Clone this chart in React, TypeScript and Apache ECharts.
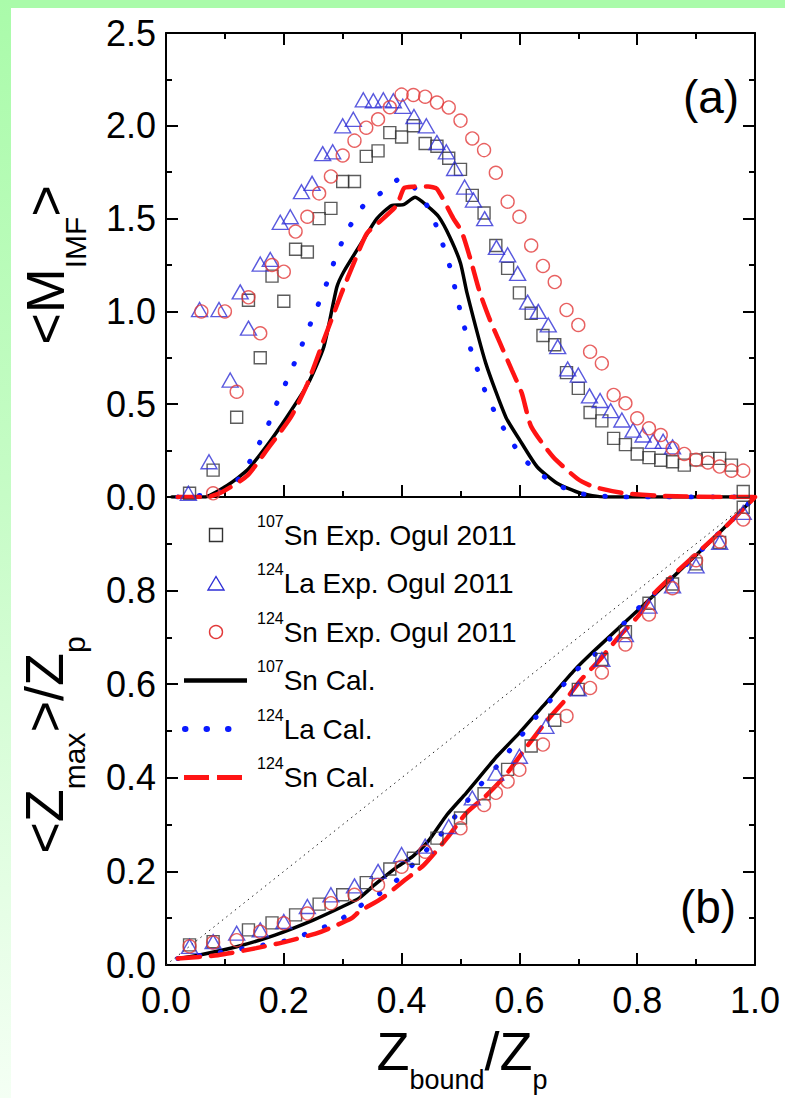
import React, { useEffect, useRef } from 'react';
import * as echarts from 'echarts';

const FONT = "'Liberation Sans', Arial, Helvetica, sans-serif";

// ---------- Panel (a): <M_IMF> vs Zbound/Zp ----------
const aSn107Exp: number[][] = [
  [0.04, 0.02], [0.08, 0.145], [0.12, 0.43], [0.14, 1.06], [0.16, 0.75], [0.18, 1.19], [0.2, 1.055],
  [0.22, 1.335], [0.24, 1.32], [0.26, 1.5], [0.28, 1.555], [0.3, 1.7], [0.32, 1.7], [0.34, 1.835],
  [0.36, 1.865], [0.38, 1.963], [0.4, 1.94], [0.42, 2.0], [0.44, 1.905], [0.46, 1.89], [0.48, 1.825],
  [0.5, 1.765], [0.52, 1.625], [0.54, 1.53], [0.56, 1.355], [0.58, 1.232], [0.6, 1.1], [0.62, 0.99],
  [0.64, 0.87], [0.66, 0.82], [0.68, 0.67], [0.7, 0.585], [0.72, 0.455], [0.74, 0.41], [0.76, 0.316],
  [0.78, 0.282], [0.8, 0.232], [0.82, 0.212], [0.84, 0.198], [0.86, 0.19], [0.88, 0.172], [0.9, 0.2],
  [0.92, 0.208], [0.94, 0.208], [0.96, 0.172], [0.98, 0.03],
];
const aLa124Exp: number[][] = [
  [0.038, 0.02], [0.057, 1.01], [0.073, 0.19], [0.09, 1.01], [0.109, 0.63], [0.126, 1.105], [0.14, 0.91],
  [0.16, 1.255], [0.177, 1.28], [0.194, 1.48], [0.211, 1.51], [0.23, 1.645], [0.248, 1.69], [0.266, 1.85],
  [0.283, 1.86], [0.3, 2.0], [0.318, 2.035], [0.335, 2.14], [0.352, 2.135], [0.369, 2.14], [0.386, 2.135],
  [0.402, 2.105], [0.421, 2.05], [0.442, 2.0], [0.46, 1.91], [0.476, 1.86], [0.49, 1.77], [0.507, 1.67],
  [0.522, 1.6], [0.541, 1.5], [0.561, 1.345], [0.58, 1.305], [0.597, 1.205], [0.614, 1.05], [0.632, 1.0],
  [0.649, 0.927], [0.665, 0.81], [0.682, 0.69], [0.7, 0.657], [0.719, 0.545], [0.737, 0.52], [0.755, 0.465],
  [0.774, 0.415], [0.793, 0.36], [0.81, 0.334], [0.827, 0.3], [0.844, 0.3], [0.86, 0.27],
];
const aSn124Exp: number[][] = [
  [0.06, 1.0], [0.08, 0.02], [0.1, 1.0], [0.12, 0.567], [0.14, 1.076], [0.16, 0.882], [0.18, 1.25],
  [0.2, 1.214], [0.22, 1.43], [0.24, 1.51], [0.26, 1.636], [0.28, 1.727], [0.3, 1.84], [0.32, 1.92],
  [0.34, 1.99], [0.36, 2.035], [0.38, 2.1], [0.4, 2.168], [0.42, 2.166], [0.44, 2.157], [0.46, 2.125],
  [0.48, 2.099], [0.5, 2.028], [0.52, 1.932], [0.54, 1.869], [0.56, 1.747], [0.58, 1.591], [0.6, 1.51],
  [0.62, 1.355], [0.64, 1.245], [0.66, 1.158], [0.68, 1.008], [0.7, 0.927], [0.72, 0.783], [0.74, 0.72],
  [0.76, 0.55], [0.78, 0.505], [0.8, 0.424], [0.82, 0.37], [0.84, 0.334], [0.86, 0.262], [0.88, 0.232],
  [0.9, 0.2], [0.92, 0.186], [0.94, 0.164], [0.96, 0.142], [0.98, 0.142],
];
const aSn107Cal: number[][] = [
  [0.01, 0.0], [0.065, 0.0], [0.105, 0.065], [0.138, 0.145], [0.172, 0.28], [0.205, 0.43], [0.241, 0.61],
  [0.268, 0.81], [0.29, 1.13], [0.302, 1.215], [0.335, 1.385], [0.358, 1.5], [0.383, 1.57], [0.403, 1.575],
  [0.423, 1.615], [0.443, 1.57], [0.463, 1.51], [0.482, 1.4], [0.5, 1.26], [0.511, 1.1], [0.543, 0.72],
  [0.577, 0.43], [0.6, 0.31], [0.63, 0.163], [0.664, 0.074], [0.704, 0.02], [0.744, 0.0], [1.0, 0.0],
];
const aLa124Cal: number[][] = [
  [0.02, 0.0], [0.09, 0.023], [0.127, 0.109], [0.151, 0.244], [0.171, 0.37], [0.188, 0.505], [0.208, 0.648],
  [0.225, 0.774], [0.241, 0.9], [0.258, 1.034], [0.275, 1.17], [0.289, 1.3], [0.307, 1.43], [0.334, 1.565],
  [0.368, 1.645], [0.399, 1.717], [0.431, 1.636], [0.454, 1.5], [0.469, 1.37], [0.483, 1.23], [0.491, 1.12],
  [0.502, 0.97], [0.518, 0.79], [0.541, 0.577], [0.562, 0.433], [0.585, 0.307], [0.609, 0.2], [0.642, 0.11],
  [0.683, 0.038], [0.717, 0.011], [0.777, 0.0], [1.0, 0.0],
];
const aSn124Cal: number[][] = [
  [0.02, 0.0], [0.07, 0.0], [0.097, 0.03], [0.138, 0.115], [0.175, 0.27], [0.212, 0.43], [0.24, 0.61],
  [0.266, 0.83], [0.297, 1.09], [0.32, 1.27], [0.341, 1.42], [0.363, 1.484], [0.392, 1.573], [0.404, 1.664],
  [0.42, 1.672], [0.445, 1.673], [0.46, 1.66], [0.488, 1.5], [0.502, 1.43], [0.517, 1.28], [0.533, 1.1],
  [0.55, 0.954], [0.567, 0.83], [0.587, 0.685], [0.604, 0.56], [0.62, 0.38], [0.657, 0.217], [0.698, 0.1],
  [0.725, 0.056], [0.778, 0.02], [0.845, 0.005], [0.945, 0.0], [1.0, 0.0],
];

// ---------- Panel (b): <Z_max>/Z_p vs Zbound/Zp ----------
const bSn107Exp: number[][] = [
  [0.04, 0.043], [0.08, 0.05], [0.14, 0.075], [0.18, 0.09], [0.22, 0.107], [0.26, 0.13], [0.3, 0.15],
  [0.34, 0.176], [0.38, 0.205], [0.42, 0.228], [0.46, 0.271], [0.5, 0.314], [0.54, 0.366], [0.58, 0.418],
  [0.62, 0.468], [0.66, 0.523], [0.7, 0.589], [0.74, 0.653], [0.78, 0.712], [0.82, 0.773], [0.86, 0.814],
  [0.9, 0.857], [0.94, 0.903], [0.98, 0.978],
];
const bLa124Exp: number[][] = [
  [0.04, 0.04], [0.08, 0.05], [0.12, 0.068], [0.16, 0.075], [0.2, 0.093], [0.24, 0.125], [0.28, 0.15],
  [0.32, 0.169], [0.36, 0.2], [0.4, 0.236], [0.44, 0.254], [0.48, 0.296], [0.52, 0.357], [0.56, 0.41],
  [0.6, 0.446], [0.645, 0.51], [0.7, 0.59], [0.74, 0.653], [0.78, 0.706], [0.82, 0.767], [0.86, 0.81],
  [0.9, 0.853], [0.94, 0.903], [0.98, 0.967],
];
const bSn124Exp: number[][] = [
  [0.04, 0.04], [0.08, 0.048], [0.12, 0.053], [0.16, 0.071], [0.2, 0.089], [0.24, 0.11], [0.28, 0.132],
  [0.32, 0.15], [0.36, 0.171], [0.4, 0.21], [0.44, 0.242], [0.5, 0.292], [0.54, 0.342], [0.56, 0.368],
  [0.58, 0.392], [0.6, 0.417], [0.64, 0.471], [0.68, 0.532], [0.72, 0.592], [0.74, 0.625], [0.78, 0.685],
  [0.82, 0.749], [0.86, 0.805], [0.9, 0.865], [0.94, 0.905], [0.98, 0.952],
];
const bSn107Cal: number[][] = [
  [0.02, 0.014], [0.055, 0.021], [0.12, 0.039], [0.185, 0.064], [0.25, 0.096], [0.3, 0.125], [0.328, 0.143],
  [0.354, 0.171], [0.393, 0.21], [0.419, 0.232], [0.445, 0.264], [0.477, 0.321], [0.51, 0.368],
  [0.562, 0.446], [0.6, 0.496], [0.64, 0.553], [0.692, 0.628], [0.73, 0.675], [0.809, 0.767],
  [0.87, 0.84], [0.93, 0.912], [1.0, 1.0],
];
const bLa124Cal: number[][] = [
  [0.02, 0.014], [0.088, 0.026], [0.153, 0.04], [0.204, 0.052], [0.263, 0.078], [0.295, 0.096], [0.328, 0.125],
  [0.363, 0.153], [0.399, 0.189], [0.432, 0.232], [0.464, 0.275], [0.5, 0.332], [0.529, 0.378], [0.562, 0.425],
  [0.594, 0.475], [0.627, 0.528], [0.659, 0.575], [0.695, 0.628], [0.731, 0.667], [0.763, 0.71], [0.8, 0.76],
  [0.87, 0.84], [0.93, 0.912], [1.0, 1.0],
];
const bSn124Cal: number[][] = [
  [0.02, 0.014], [0.088, 0.021], [0.153, 0.036], [0.204, 0.05], [0.263, 0.071], [0.315, 0.1], [0.328, 0.114],
  [0.367, 0.143], [0.406, 0.182], [0.438, 0.214], [0.477, 0.271], [0.51, 0.325], [0.542, 0.36], [0.575, 0.403],
  [0.607, 0.457], [0.646, 0.521], [0.679, 0.568], [0.705, 0.61], [0.737, 0.653], [0.77, 0.703], [0.802, 0.746],
  [0.831, 0.797], [0.945, 0.93], [1.0, 1.0],
];
const bDiagonal: number[][] = [[0, 0], [1, 1]];

// ---------- Legend texts ----------
const legendSup = ['107', '124', '124', '107', '124', '124'];
const legendMain = ['Sn Exp. Ogul 2011', 'La Exp. Ogul 2011', 'Sn Exp. Ogul 2011', 'Sn Cal.', 'La Cal.', 'Sn Cal.'];
const seriesNames = legendSup.map((s, i) => s + legendMain[i]);

const C_SQ = '#333333';
const C_TRI = '#2f2fd6';
const C_CIR = '#e23a3a';
const C_BLACK = '#000000';
const C_BLUE = '#0a1aff';
const C_RED = '#ff1414';

const BLUE_DASH = [0.5, 21];
const RED_DASH = [22, 11];

export default function App() {
  const ref = useRef<HTMLDivElement>(null);

  useEffect(() => {
    if (!ref.current) return;
    const chart = echarts.init(ref.current, undefined, { renderer: 'svg' });

    const axLine = { show: true, onZero: false, lineStyle: { color: '#000', width: 2 } };
    const tick = { show: true, inside: true, length: 12, lineStyle: { color: '#000', width: 2 } };
    const minor = { show: true, splitNumber: 2, length: 6, lineStyle: { color: '#000', width: 2 } };
    const label = { show: true, color: '#000', fontSize: 36, fontFamily: FONT };

    const xBase = { type: 'value', min: 0, max: 1, interval: 0.2, splitLine: { show: false }, axisLine: axLine, axisTick: tick, minorTick: minor };

    const scatter = (name: string, data: number[][], xi: number, symbol: string, size: any, color: string) => ({
      name, type: 'scatter', xAxisIndex: xi, yAxisIndex: xi, data, symbol, symbolSize: size, z: 4, silent: true,
      itemStyle: { color: 'rgba(0,0,0,0)', borderColor: color, borderWidth: 1.4 },
    });
    const line = (name: string, data: number[][], xi: number, color: string, width: number, type: any) => ({
      name, type: 'line', xAxisIndex: xi, yAxisIndex: xi, data, showSymbol: false, symbol: 'none', smooth: 0.2,
      z: 3, silent: true,
      lineStyle: { color, width, type, cap: 'round' },
    });

    const rowY = [535, 583.5, 632, 680.5, 729, 777.5];
    const graphic: any[] = [];
    legendMain.forEach((t, i) => {
      graphic.push({
        type: 'text', x: 257, y: rowY[i], silent: true,
        style: {
          text: `{s|${legendSup[i]}}{m|${t}}`,
          align: 'left', verticalAlign: 'middle', fill: '#000',
          rich: {
            s: { fontSize: 16, fontFamily: FONT, fill: '#000', padding: [0, 0, 28, 0] },
            m: { fontSize: 28, fontFamily: FONT, fill: '#000' },
          },
        },
      });
    });
    const lx = 216;
    graphic.push({ type: 'rect', shape: { x: lx - 6.5, y: rowY[0] - 6.5, width: 13, height: 13 }, style: { fill: 'none', stroke: C_SQ, lineWidth: 1.4 } });
    graphic.push({ type: 'polygon', shape: { points: [[lx - 8, rowY[1] + 6.5], [lx + 8, rowY[1] + 6.5], [lx, rowY[1] - 7]] }, style: { fill: 'none', stroke: C_TRI, lineWidth: 1.4 } });
    graphic.push({ type: 'circle', shape: { cx: lx, cy: rowY[2], r: 6.5 }, style: { fill: 'none', stroke: C_CIR, lineWidth: 1.4 } });
    graphic.push({ type: 'line', shape: { x1: 184, y1: rowY[3], x2: 247, y2: rowY[3] }, style: { stroke: C_BLACK, lineWidth: 4.5 } });
    graphic.push({ type: 'line', shape: { x1: 185, y1: rowY[4], x2: 248, y2: rowY[4] }, style: { stroke: C_BLUE, lineWidth: 6, lineDash: BLUE_DASH, lineCap: 'round' } });
    graphic.push({ type: 'line', shape: { x1: 184, y1: rowY[5], x2: 247, y2: rowY[5] }, style: { stroke: C_RED, lineWidth: 5, lineDash: [25, 8] } });

    // panel labels
    graphic.push({ type: 'text', x: 711, y: 97, silent: true, style: { text: '(a)', fontSize: 46, fontFamily: FONT, fill: '#000', align: 'center', verticalAlign: 'middle' } });
    graphic.push({ type: 'text', x: 708, y: 907, silent: true, style: { text: '(b)', fontSize: 46, fontFamily: FONT, fill: '#000', align: 'center', verticalAlign: 'middle' } });

    const titleRich = (big: number, sub: number, drop: number) => ({
      a: { fontSize: big, fontFamily: FONT, fill: '#000' },
      s: { fontSize: sub, fontFamily: FONT, fill: '#000', padding: [drop, 0, 0, 0] },
    });
    // axis titles
    graphic.push({
      type: 'text', x: 462, y: 1051, silent: true,
      style: { text: '{a|Z}{s|bound}{a|/Z}{s|p}', align: 'center', verticalAlign: 'middle', fill: '#000', rich: titleRich(54, 27, 58) },
    });
    graphic.push({
      type: 'text', x: 45, y: 265, rotation: Math.PI / 2, silent: true,
      style: { text: '{a|<M}{s|IMF}{a|>}', align: 'center', verticalAlign: 'middle', fill: '#000', rich: titleRich(54, 30, 60) },
    });
    graphic.push({
      type: 'text', x: 44, y: 745, rotation: Math.PI / 2, silent: true,
      style: { text: '{a|<Z}{s|max}{a|>/Z}{s|p}', align: 'center', verticalAlign: 'middle', fill: '#000', rich: titleRich(54, 30, 60) },
    });

    const option: any = {
      animation: false,
      backgroundColor: 'transparent',
      textStyle: { fontFamily: FONT },
      grid: [
        { left: 166, top: 33, width: 589, height: 464, containLabel: false },
        { left: 166, top: 497, width: 589, height: 468, containLabel: false },
      ],
      xAxis: [
        { ...xBase, gridIndex: 0, position: 'bottom', axisLabel: { show: false } },
        { ...xBase, gridIndex: 1, position: 'bottom', axisLabel: { ...label, margin: 17, formatter: (v: number) => v.toFixed(1) } },
        { ...xBase, gridIndex: 0, position: 'top', axisLabel: { show: false } },
        { ...xBase, gridIndex: 1, position: 'top', axisLabel: { show: false }, axisTick: { show: false }, minorTick: { show: false } },
      ],
      yAxis: [
        { type: 'value', gridIndex: 0, position: 'left', min: 0, max: 2.5, interval: 0.5, splitLine: { show: false }, axisLine: axLine, axisTick: tick, minorTick: minor, axisLabel: { ...label, margin: 10, formatter: (v: number) => v.toFixed(1) } },
        { type: 'value', gridIndex: 1, position: 'left', min: 0, max: 1, interval: 0.2, splitLine: { show: false }, axisLine: axLine, axisTick: tick, minorTick: minor, axisLabel: { ...label, margin: 10, formatter: (v: number) => (v >= 0.999 ? '' : v.toFixed(1)) } },
        { type: 'value', gridIndex: 0, position: 'right', min: 0, max: 2.5, interval: 0.5, splitLine: { show: false }, axisLine: axLine, axisTick: tick, minorTick: minor, axisLabel: { show: false } },
        { type: 'value', gridIndex: 1, position: 'right', min: 0, max: 1, interval: 0.2, splitLine: { show: false }, axisLine: axLine, axisTick: tick, minorTick: minor, axisLabel: { show: false } },
      ],
      series: [
        line(seriesNames[3], aSn107Cal, 0, C_BLACK, 3.5, 'solid'),
        line(seriesNames[4], aLa124Cal, 0, C_BLUE, 5, BLUE_DASH),
        line(seriesNames[5], aSn124Cal, 0, C_RED, 4.5, RED_DASH),
        scatter(seriesNames[0], aSn107Exp, 0, 'rect', 12, C_SQ),
        scatter(seriesNames[1], aLa124Exp, 0, 'triangle', [16, 14], C_TRI),
        scatter(seriesNames[2], aSn124Exp, 0, 'circle', 13, C_CIR),
        {
          name: 'Z_max = Z_bound', type: 'line', xAxisIndex: 1, yAxisIndex: 1, data: bDiagonal, showSymbol: false, symbol: 'none', z: 2, silent: true,
          lineStyle: { color: '#222', width: 1, type: [1.5, 4] },
        },
        line(seriesNames[3], bSn107Cal, 1, C_BLACK, 3.5, 'solid'),
        line(seriesNames[4], bLa124Cal, 1, C_BLUE, 5, BLUE_DASH),
        line(seriesNames[5], bSn124Cal, 1, C_RED, 4.5, RED_DASH),
        scatter(seriesNames[0], bSn107Exp, 1, 'rect', 12, C_SQ),
        scatter(seriesNames[1], bLa124Exp, 1, 'triangle', [16, 14], C_TRI),
        scatter(seriesNames[2], bSn124Exp, 1, 'circle', 13, C_CIR),
      ],
      graphic,
    };
    chart.setOption(option);
    return () => chart.dispose();
  }, []);

  return (
    <div style={{ position: 'fixed', left: 0, top: 0, width: 785, height: 1098, background: '#ffffff', overflow: 'hidden' }}>
      <div style={{ position: 'absolute', left: 0, top: 0, width: 785, height: 8, background: '#aafbaa' }} />
      <div style={{ position: 'absolute', left: 0, top: 0, width: 11, height: 1098, background: 'linear-gradient(to bottom, #aafbaa 0%, #c6fcc6 45%, #f4fff4 100%)' }} />
      <div ref={ref} style={{ position: 'absolute', left: 0, top: 0, width: 785, height: 1098 }} />
    </div>
  );
}
